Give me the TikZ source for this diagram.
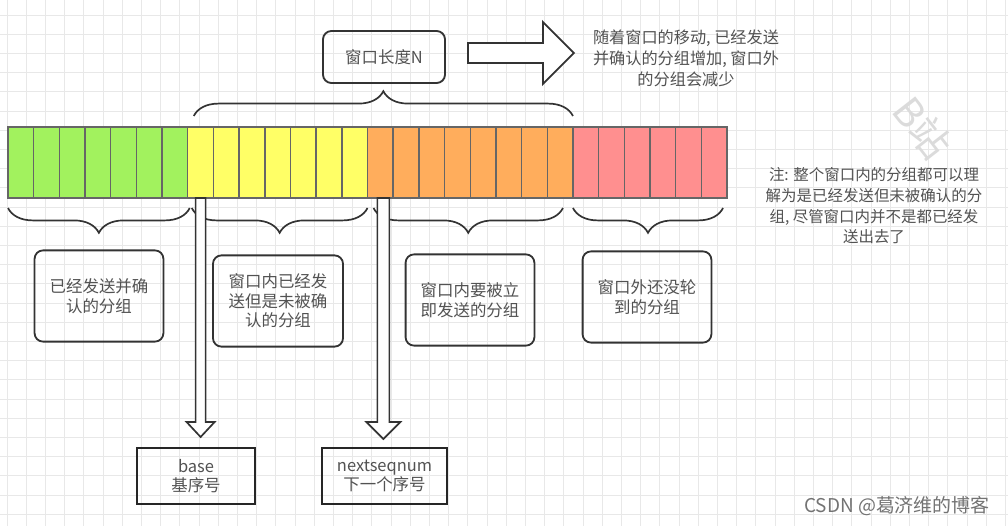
\documentclass[tikz,border=0pt]{standalone}
\usepackage{fontspec}
\setmainfont{Noto Sans CJK SC}
\usepackage{xcolor}
\usepackage{tikz}
\usetikzlibrary{decorations.pathreplacing, positioning, calc}
\definecolor{ackd}{HTML}{A2F25E}
\definecolor{sentd}{HTML}{FFFF66}
\definecolor{usable}{HTML}{FFAD5C}
\definecolor{notusable}{HTML}{FF8F8F}

\begin{document}
\begin{tikzpicture}[x=0.025cm, y=-0.025cm,
  gridline/.style={draw=black!9, line width=0.5pt},
  cell/.style={draw=black!60, line width=1pt, minimum width=0.642cm, minimum height=1.775cm, inner sep=0pt, outer sep=0pt},
  infobox/.style={draw=black!80, line width=1.3pt, rounded corners=6pt, align=center, text=black!68, minimum width=3.22cm, minimum height=2.28cm, font=\fontsize{11.7}{14}\selectfont},
  ptrbox/.style={draw=black!85, line width=1.4pt, align=center, text=black!68, minimum height=1.4cm, font=\fontsize{11.7}{14}\selectfont},
  curly/.style={draw=black!80, line width=1.2pt, decorate, decoration={brace, amplitude=0.62cm}},
  curlydown/.style={curly, decoration={mirror}},
  hollow/.style={draw=black!80, line width=1.2pt, fill=white, line join=miter},
  note/.style={align=center, text=black!68, font=\fontsize{11.5}{15}\selectfont}]
\useasboundingbox (0,0) rectangle (1008,526);
\fill[white] (0,0) rectangle (1008,526);
\foreach \k in {0,...,52} \draw[gridline] ({7+19.2*\k},0) -- ({7+19.2*\k},526);
\foreach \k in {0,...,26} \draw[gridline] (0,{15+19.2*\k}) -- (1008,{15+19.2*\k});

\node[text=black!14, rotate=-52, inner sep=0pt, font=\fontsize{28}{30}\selectfont] (bili) at (922,128) {B站};

\foreach \i in {1,...,7} \node[cell, fill=ackd] (c\i) at ({8+(\i-0.5)*25.68},162.5) {};
\foreach \i in {8,...,14} \node[cell, fill=sentd] (c\i) at ({8+(\i-0.5)*25.68},162.5) {};
\foreach \i in {15,...,22} \node[cell, fill=usable] (c\i) at ({8+(\i-0.5)*25.68},162.5) {};
\foreach \i in {23,...,28} \node[cell, fill=notusable] (c\i) at ({8+(\i-0.5)*25.68},162.5) {};

\draw[curly] ($(c8.north west)+(6,-11)$) -- ($(c22.north east)+(0,-11)$);
\node[infobox, minimum width=3.05cm, minimum height=1.3cm] (len) at (384,57) {窗口长度N};
\node[note] (move) at (686,58) {随着窗口的移动, 已经发送\\并确认的分组增加, 窗口外\\的分组会减少};
\coordinate (r1) at ($(len.east)+(22,-4)$);
\coordinate (r2) at ($(r1)+(106,0)$);
\draw[hollow] ($(r1)+(0,-10)$) -- ($(r2)+(-31,-10)$) -- ($(r2)+(-31,-31)$) -- (r2) -- ($(r2)+(-31,31)$) -- ($(r2)+(-31,10)$) -- ($(r1)+(0,10)$) -- cycle;

\draw[curlydown] ($(c1.south west)+(0,10)$) -- ($(c7.south east)+(2,10)$);
\draw[curlydown] ($(c8.south west)+(4,10)$) -- ($(c14.south east)+(0,10)$);
\draw[curlydown] ($(c15.south west)+(6,10)$) -- ($(c22.south east)+(-10,10)$);
\draw[curlydown] ($(c23.south west)+(0,10)$) -- ($(c28.south east)+(-4,10)$);

\node[infobox] (acked) at (99,296) {已经发送并确\\认的分组};
\node[infobox, minimum width=3.25cm] (sent) at (278,301) {窗口内已经发\\送但是未被确\\认的分组};
\node[infobox] (ready) at (470,300) {窗口内要被立\\即发送的分组};
\node[infobox] (later) at (647,297) {窗口外还没轮\\到的分组};
\node[note, font=\fontsize{11}{14.7}\selectfont] (remark) at (874,206) {注: 整个窗口内的分组都可以理\\解为是已经发送但未被确认的分\\组, 尽管窗口内并不是都已经发\\送出去了};

\node[ptrbox, minimum width=2.95cm] (base) at (196,476) {base\\基序号};
\node[ptrbox, minimum width=3.12cm] (next) at (384.5,476) {nextseqnum\\下一个序号};

\coordinate (b1) at (c8.south);
\coordinate (b2) at ($(c8.south |- base.north)+(0,-10)$);
\draw[hollow] ($(b1)+(-5,0)$) -- ($(b2)+(-5,-15)$) -- ($(b2)+(-14,-15)$) -- (b2) -- ($(b2)+(14,-15)$) -- ($(b2)+(5,-15)$) -- ($(b1)+(5,0)$) -- cycle;
\coordinate (n1) at ($(c15.south)+(3,0)$);
\coordinate (n2) at ($(n1 |- next.north)+(0,-8)$);
\draw[hollow] ($(n1)+(-6,0)$) -- ($(n2)+(-6,-17)$) -- ($(n2)+(-17,-17)$) -- (n2) -- ($(n2)+(17,-17)$) -- ($(n2)+(6,-17)$) -- ($(n1)+(6,0)$) -- cycle;

\node[text=black!55, font=\fontsize{13.5}{16}\selectfont] (csdn) at (897,506) {CSDN @葛济维的博客};
\end{tikzpicture}
\end{document}
